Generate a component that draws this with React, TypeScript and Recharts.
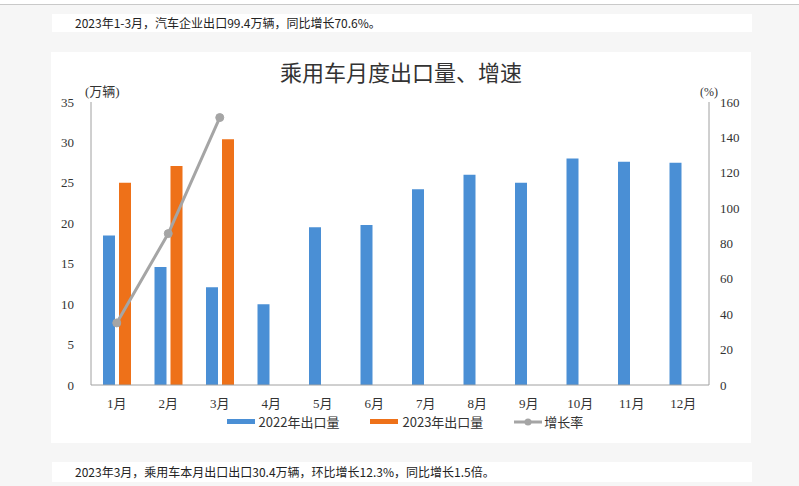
import { ComposedChart, Bar, Line, XAxis, YAxis, Legend, Label } from 'recharts';

const months = ['1月', '2月', '3月', '4月', '5月', '6月', '7月', '8月', '9月', '10月', '11月', '12月'];
const export2022 = [18.5, 14.6, 12.1, 10.0, 19.5, 19.8, 24.2, 26.0, 25.0, 28.0, 27.6, 27.5];
const export2023 = [25.0, 27.1, 30.4];
const growthRate = [35.1, 85.6, 151.2];
const leftTicks = [0, 5, 10, 15, 20, 25, 30, 35];
const rightTicks = [0, 20, 40, 60, 80, 100, 120, 140, 160];

const BLUE = '#4a8fd5';
const ORANGE = '#ee7119';
const GRAY = '#a5a5a5';
const AXIS = '#a0a0a0';
const TICK_FONT = '"Liberation Serif", "Noto Sans CJK SC", serif';
const SANS = '"Liberation Sans Narrow", "Noto Sans CJK SC", sans-serif';

// build rows for recharts from the arrays above
const chartData = months.map((m, i) => ({
  month: m,
  y2022: export2022[i],
  y2023: i < export2023.length ? export2023[i] : null,
  growth: i < growthRate.length ? growthRate[i] : null,
}));

const legendItems = [
  { label: '2022年出口量', color: BLUE, type: 'bar' },
  { label: '2023年出口量', color: ORANGE, type: 'bar' },
  { label: '增长率', color: GRAY, type: 'line' },
];

const CustomLegend = () => (
  <div style={{ display: 'flex', justifyContent: 'center', alignItems: 'center', gap: 31, fontFamily: SANS, fontSize: 13, color: '#333', paddingLeft: 8 }}>
    {legendItems.map((item) => (
      <div key={item.label} style={{ display: 'flex', alignItems: 'center', gap: item.type === 'line' ? 2 : 4 }}>
        {item.type === 'bar' ? (
          <span style={{ display: 'inline-block', width: 28, height: 5, background: item.color }} />
        ) : (
          <svg width={28} height={10}>
            <line x1={0} y1={5} x2={28} y2={5} stroke={item.color} strokeWidth={3} />
            <circle cx={14} cy={5} r={3.5} fill={item.color} />
          </svg>
        )}
        <span>{item.label}</span>
      </div>
    ))}
  </div>
);

const App = () => {
  return (
    <div style={{ position: 'absolute', left: 0, top: 0, width: 799, height: 486, background: '#f6f6f6', overflow: 'hidden' }}>
      <div style={{ position: 'absolute', left: 0, top: 0, width: 799, height: 4, background: '#fff', borderBottom: '1px solid #c9c9c9' }} />

      <div style={{ position: 'absolute', left: 52, top: 14, width: 700, height: 18, background: '#fff', fontFamily: SANS, fontSize: 12, color: '#222', lineHeight: '18px' }}>
        <span style={{ position: 'absolute', left: 23 }}>2023年1-3月，汽车企业出口99.4万辆，同比增长70.6%。</span>
      </div>

      <div style={{ position: 'absolute', left: 51, top: 52, width: 700, height: 391, background: '#fff' }}>
        <div style={{ position: 'absolute', left: 0, top: 6, width: 700, textAlign: 'center', fontFamily: '"Noto Sans CJK SC", serif', fontSize: 22, color: '#333', lineHeight: '26px' }}>
          乘用车月度出口量、增速
        </div>
        <ComposedChart
          width={700}
          height={391}
          data={chartData}
          margin={{ top: 50, right: 0, bottom: 11, left: 0 }}
          barSize={12}
          barGap={4}
        >
          <XAxis
            dataKey="month"
            axisLine={{ stroke: AXIS }}
            tickLine={false}
            tickSize={0}
            tickMargin={14}
            height={27}
            interval={0}
            tick={{ fontFamily: TICK_FONT, fontSize: 13, fill: '#333' }}
          />
          <YAxis
            yAxisId="left"
            domain={[0, 35]}
            ticks={leftTicks}
            width={40}
            axisLine={{ stroke: AXIS }}
            tickLine={false}
            tickSize={0}
            tickMargin={17}
            tick={{ fontFamily: TICK_FONT, fontSize: 13, fill: '#333' }}
          >
            <Label
              content={({ viewBox }: any) => (
                <text x={viewBox.x + viewBox.width - 6} y={viewBox.y - 6} fontFamily={TICK_FONT} fontSize={13} fill="#333">
                  (万辆)
                </text>
              )}
            />
          </YAxis>
          <YAxis
            yAxisId="right"
            orientation="right"
            domain={[0, 160]}
            ticks={rightTicks}
            width={42}
            axisLine={{ stroke: AXIS }}
            tickLine={false}
            tickSize={0}
            tickMargin={11}
            tick={{ fontFamily: TICK_FONT, fontSize: 13, fill: '#333' }}
          >
            <Label
              content={({ viewBox }: any) => (
                <text x={viewBox.x - 9} y={viewBox.y - 6} fontFamily={TICK_FONT} fontSize={12} fill="#333">
                  (%)
                </text>
              )}
            />
          </YAxis>
          <Legend verticalAlign="bottom" height={20} content={<CustomLegend />} />
          <Bar yAxisId="left" dataKey="y2022" name="2022年出口量" fill={BLUE} isAnimationActive={false} />
          <Bar yAxisId="left" dataKey="y2023" name="2023年出口量" fill={ORANGE} isAnimationActive={false} />
          <Line
            yAxisId="right"
            dataKey="growth"
            name="增长率"
            type="linear"
            stroke={GRAY}
            strokeWidth={3}
            dot={{ r: 4, fill: GRAY, stroke: GRAY, strokeWidth: 1 }}
            activeDot={false}
            isAnimationActive={false}
          />
        </ComposedChart>
      </div>

      <div style={{ position: 'absolute', left: 52, top: 462, width: 700, height: 20, background: '#fff', fontFamily: SANS, fontSize: 12, color: '#222', lineHeight: '20px' }}>
        <span style={{ position: 'absolute', left: 23 }}>2023年3月，乘用车本月出口出口30.4万辆，环比增长12.3%，同比增长1.5倍。</span>
      </div>
    </div>
  );
};

export default App;
